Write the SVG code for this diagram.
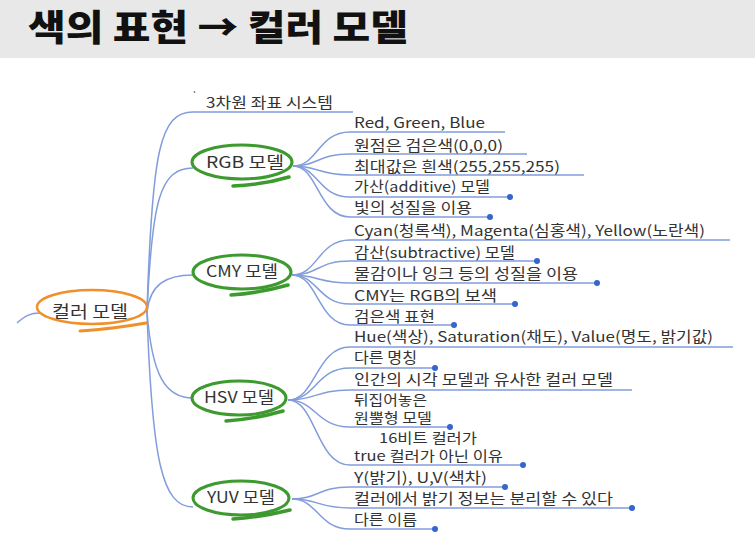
<svg xmlns="http://www.w3.org/2000/svg" width="755" height="545" viewBox="0 0 755 545">
<style>
text{font-family:"Noto Sans CJK KR","Liberation Sans",sans-serif}
.t{font-size:14.5px;fill:#333}
.s{font-size:13.5px;fill:#333}
.n{font-size:15.5px;fill:#333}
.c{fill:none;stroke:#829ddb;stroke-width:1.5}
.d{fill:#3466cc}
.g{fill:none;stroke:#3d9a2f;stroke-width:3}
.gt{fill:none;stroke:#3d9a2f;stroke-width:3.5;stroke-linecap:round}
.o{fill:none;stroke:#f0902a;stroke-width:2.5}
.ot{fill:none;stroke:#f0902a;stroke-width:3;stroke-linecap:round}
</style>
<rect x="0" y="0" width="755" height="545" fill="#ffffff"/>
<g id="header">
<rect x="0" y="0" width="755" height="58" fill="#e8e8e8"/>
<text x="28" y="41" font-size="36" font-weight="900" fill="#111" textLength="380" lengthAdjust="spacingAndGlyphs">색의 표현 → 컬러 모델</text>
</g>
<g id="connectors">
<path class="c" d="M17,323 C25,316 30,313 40,313"/>
<path class="c" d="M147,312 C152,150 160,112 193,112 L353,112"/>
<path class="c" d="M147,312 C152,200 160,168 193,168"/>
<path class="c" d="M147,312 C150,285 165,275 193,275"/>
<path class="c" d="M147,312 C152,375 165,398 193,398"/>
<path class="c" d="M147,312 C152,460 162,507 193,507"/>
<path class="c" d="M293,166 C318,166 318,132 350,132 L505,132"/>
<path class="c" d="M293,166 C318,166 318,154 350,154 L527,154"/>
<path class="c" d="M293,166 C318,166 318,175 350,175 L584,175"/>
<path class="c" d="M293,166 C318,166 318,197 350,197 L510,197"/>
<path class="c" d="M293,166 C318,166 318,217 350,217 L490,217"/>
<path class="c" d="M292,275 C318,275 318,240 350,240 L730,240"/>
<path class="c" d="M292,275 C318,275 318,261 350,261 L537,261"/>
<path class="c" d="M292,275 C318,275 318,283 350,283 L597,283"/>
<path class="c" d="M292,275 C318,275 318,304 350,304 L515,304"/>
<path class="c" d="M292,275 C318,275 318,325 350,325 L454,325"/>
<path class="c" d="M288,400 C316,400 316,347 350,347 L733,347"/>
<path class="c" d="M288,400 C316,400 316,368 350,368 L435,368"/>
<path class="c" d="M288,400 C316,400 316,390 350,390 L632,390"/>
<path class="c" d="M288,400 C316,400 316,427 350,427 L450,427"/>
<path class="c" d="M288,400 C316,400 316,465 350,465 L523,465"/>
<path class="c" d="M292,499 C318,499 318,487 350,487 L505,487"/>
<path class="c" d="M292,499 C318,499 318,508 350,508 L632,508"/>
<path class="c" d="M292,499 C318,499 318,529 350,529 L435,529"/>
<circle class="d" cx="510" cy="197" r="3"/>
<circle class="d" cx="490" cy="217" r="3"/>
<circle class="d" cx="537" cy="261" r="3"/>
<circle class="d" cx="597" cy="283" r="3"/>
<circle class="d" cx="515" cy="304" r="3"/>
<circle class="d" cx="454" cy="325" r="3"/>
<circle class="d" cx="435" cy="368" r="3"/>
<circle class="d" cx="450" cy="427" r="3"/>
<circle class="d" cx="523" cy="465" r="3"/>
<circle class="d" cx="505" cy="487" r="3"/>
<circle class="d" cx="632" cy="508" r="3"/>
<circle class="d" cx="435" cy="529" r="3"/>
</g>
<g id="root">
<ellipse class="o" cx="92" cy="307" rx="55" ry="17"/>
<path class="ot" d="M80,331 Q112,329 146,323"/>
<text x="52" y="318" font-size="16.5" fill="#333" textLength="76" lengthAdjust="spacingAndGlyphs">컬러 모델</text>
</g>
<g id="n3d">
<line x1="194" y1="91" x2="195" y2="93" stroke="#555" stroke-width="1"/>
<text class="t" x="206" y="108" textLength="127" lengthAdjust="spacingAndGlyphs">3차원 좌표 시스템</text>
</g>
<g id="rgb">
<ellipse class="g" cx="242" cy="162" rx="50" ry="17"/>
<path class="gt" d="M233,186 Q262,185 289,177"/>
<text class="n" x="206" y="168" textLength="78" lengthAdjust="spacingAndGlyphs">RGB 모델</text>
</g>
<g id="rgb-items">
<text class="t" x="354" y="128" textLength="131" lengthAdjust="spacingAndGlyphs">Red, Green, Blue</text>
<text class="t" x="354" y="151" textLength="149" lengthAdjust="spacingAndGlyphs">원점은 검은색(0,0,0)</text>
<text class="t" x="354" y="172" textLength="206" lengthAdjust="spacingAndGlyphs">최대값은 흰색(255,255,255)</text>
<text class="t" x="354" y="192" textLength="136" lengthAdjust="spacingAndGlyphs">가산(additive) 모델</text>
<text class="t" x="354" y="213" textLength="118" lengthAdjust="spacingAndGlyphs">빛의 성질을 이용</text>
</g>
<g id="cmy">
<ellipse class="g" cx="242" cy="272" rx="49" ry="17"/>
<path class="gt" d="M231,295 Q260,293 288,285"/>
<text class="n" x="206" y="277" textLength="72" lengthAdjust="spacingAndGlyphs">CMY 모델</text>
</g>
<g id="cmy-items">
<text class="t" x="354" y="236" textLength="351" lengthAdjust="spacingAndGlyphs">Cyan(청록색), Magenta(심홍색), Yellow(노란색)</text>
<text class="t" x="354" y="258" textLength="161" lengthAdjust="spacingAndGlyphs">감산(subtractive) 모델</text>
<text class="t" x="354" y="279" textLength="224" lengthAdjust="spacingAndGlyphs">물감이나 잉크 등의 성질을 이용</text>
<text class="t" x="354" y="301" textLength="143" lengthAdjust="spacingAndGlyphs">CMY는 RGB의 보색</text>
<text class="t" x="354" y="322" textLength="81" lengthAdjust="spacingAndGlyphs">검은색 표현</text>
</g>
<g id="hsv">
<ellipse class="g" cx="239" cy="398" rx="47" ry="17"/>
<path class="gt" d="M226,421 Q255,419 283,411"/>
<text class="n" x="204" y="403" textLength="70" lengthAdjust="spacingAndGlyphs">HSV 모델</text>
</g>
<g id="hsv-items">
<text class="t" x="354" y="342" textLength="359" lengthAdjust="spacingAndGlyphs">Hue(색상), Saturation(채도), Value(명도, 밝기값)</text>
<text class="t" x="354" y="363" textLength="63" lengthAdjust="spacingAndGlyphs">다른 명칭</text>
<text class="t" x="354" y="385" textLength="259" lengthAdjust="spacingAndGlyphs">인간의 시각 모델과 유사한 컬러 모델</text>
<text class="s" x="354" y="405" textLength="73" lengthAdjust="spacingAndGlyphs">뒤집어놓은</text>
<text class="s" x="354" y="423" textLength="78" lengthAdjust="spacingAndGlyphs">원뿔형 모델</text>
<text class="s" x="379" y="443" textLength="98" lengthAdjust="spacingAndGlyphs">16비트 컬러가</text>
<text class="s" x="354" y="461" textLength="149" lengthAdjust="spacingAndGlyphs">true 컬러가 아닌 이유</text>
</g>
<g id="yuv">
<ellipse class="g" cx="241" cy="498" rx="48" ry="17"/>
<path class="gt" d="M233,519 Q262,517 290,510"/>
<text class="n" x="207" y="503" textLength="68" lengthAdjust="spacingAndGlyphs">YUV 모델</text>
</g>
<g id="yuv-items">
<text class="t" x="354" y="483" textLength="133" lengthAdjust="spacingAndGlyphs">Y(밝기), U,V(색차)</text>
<text class="t" x="354" y="504" textLength="259" lengthAdjust="spacingAndGlyphs">컬러에서 밝기 정보는 분리할 수 있다</text>
<text class="t" x="354" y="525" textLength="63" lengthAdjust="spacingAndGlyphs">다른 이름</text>
</g>
</svg>
